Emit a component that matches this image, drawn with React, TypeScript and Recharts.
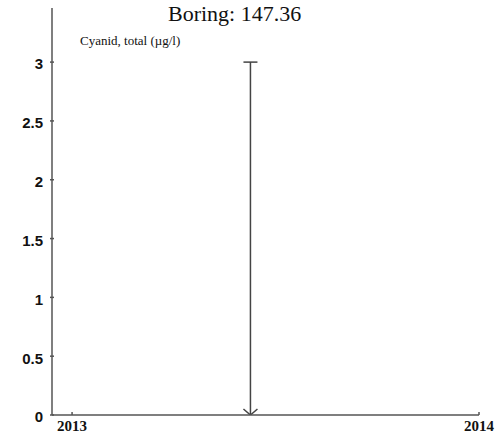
import { Bar, ComposedChart, XAxis, YAxis } from "recharts";

const title = "Boring: 147.36";
const parameter = "Cyanid, total (µg/l)";

// sample dates (ms) and measured range [low, high]
const sampleDates = [Date.UTC(2013, 5, 10)];
const sampleLow = [0];
const sampleHigh = [3];

const xTicks = [Date.UTC(2013, 0, 1), Date.UTC(2014, 0, 1)];
const xTickLabels = ["2013", "2014"];
const yTicks = [0, 0.5, 1, 1.5, 2, 2.5, 3];

const data = sampleDates.map((d, i) => ({
  date: d,
  range: [sampleLow[i], sampleHigh[i]],
}));

const axisColor = "#555";

const RangeMark = (props: any) => {
  const { x, y, width, height } = props;
  const cx = x + width / 2;
  const bottom = y + height;
  return (
    <g stroke="#444" strokeWidth={1.5} fill="none">
      <line x1={cx} y1={y} x2={cx} y2={bottom} />
      <line x1={cx - 7} y1={y} x2={cx + 7} y2={y} />
      <polyline points={`${cx - 7},${bottom - 6} ${cx},${bottom} ${cx + 7},${bottom - 6}`} />
    </g>
  );
};

const App = () => {
  return (
    <div style={{ position: "absolute", left: 0, top: 0, width: 502, height: 437, background: "#fff" }}>
      <ComposedChart
        width={502}
        height={437}
        data={data}
        margin={{ top: 8, right: 23, bottom: 0, left: 0 }}
      >
        <XAxis
          dataKey="date"
          type="number"
          domain={[Date.UTC(2012, 11, 14), Date.UTC(2014, 0, 1)]}
          ticks={xTicks}
          tickFormatter={(v: number) => xTickLabels[xTicks.indexOf(v)]}
          height={22}
          stroke={axisColor}
          strokeWidth={1.5}
          tickSize={3}
          tickLine={{ stroke: axisColor, transform: "translate(0,-3)" }}
          tick={{ fill: "#111", fontSize: 15, fontWeight: 700, fontFamily: "Liberation Serif" }}
          allowDataOverflow
        />
        <YAxis
          type="number"
          domain={[0, 3.46]}
          ticks={yTicks}
          width={52}
          stroke={axisColor}
          strokeWidth={1.5}
          tickSize={4}
          tickLine={{ stroke: axisColor, transform: "translate(2,0)" }}
          tick={{ fill: "#111", fontSize: 15, fontWeight: 700, fontFamily: "Liberation Sans", dx: -3, dy: 2 }}
          allowDataOverflow
        />
        <Bar dataKey="range" barSize={14} shape={RangeMark} isAnimationActive={false} />
      </ComposedChart>
      <div
        style={{
          position: "absolute",
          left: 168,
          top: 0,
          fontFamily: "Liberation Serif",
          fontSize: 22,
          lineHeight: "28px",
          color: "#111",
          whiteSpace: "nowrap",
        }}
      >
        {title}
      </div>
      <div
        style={{
          position: "absolute",
          left: 80,
          top: 33,
          fontFamily: "Liberation Serif",
          fontSize: 13,
          lineHeight: "16px",
          color: "#111",
          whiteSpace: "nowrap",
        }}
      >
        {parameter}
      </div>
    </div>
  );
};

export default App;
